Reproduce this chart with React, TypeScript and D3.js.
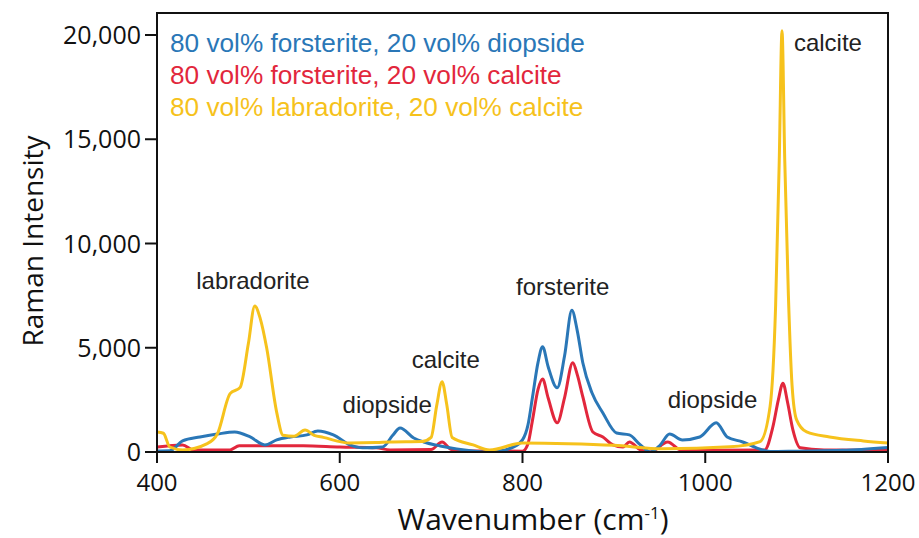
import React from "react";
import * as d3 from "d3";

// Spectra: [wavenumber (cm^-1), Raman intensity]
const forsteriteDiopside: [number, number][] = [
  [400, 50], [414, 60], [428, 530], [447, 720], [466, 860], [485, 960], [502, 720],
  [518, 340], [531, 580], [546, 720], [564, 820], [576, 1010], [593, 820], [611, 340],
  [625, 200], [647, 240], [658, 800], [666, 1150], [681, 670], [692, 480], [710, 290],
  [728, 150], [764, 0], [790, 240], [800, 580], [806, 1300], [811, 2650], [817, 4300],
  [822, 5050], [828, 4100], [838, 3080], [846, 4600], [854, 6800], [860, 5800],
  [866, 4280], [876, 2840], [888, 1870], [903, 910], [917, 820], [929, 340], [940, 0],
  [950, 300], [961, 860], [975, 580], [994, 720], [1012, 1400], [1024, 720], [1041, 480],
  [1056, 200], [1071, 20], [1100, 40], [1150, 80], [1200, 220],
];

const forsteriteCalcite: [number, number][] = [
  [400, 240], [428, 340], [440, 100], [480, 100], [490, 300], [560, 300], [600, 240],
  [640, 200], [655, 100], [700, 120], [712, 480], [722, 120], [740, 50], [800, 40],
  [806, 400], [811, 1540], [817, 3000], [822, 3500], [828, 2600], [838, 1400],
  [846, 2600], [855, 4280], [860, 3700], [866, 2650], [877, 960], [888, 720], [899, 340],
  [910, 240], [917, 480], [929, 100], [940, 0], [959, 480], [973, 100], [1000, 80],
  [1065, 100], [1074, 1200], [1080, 2500], [1085, 3300], [1090, 2400], [1096, 1050],
  [1104, 200], [1130, 100], [1200, 80],
];

const labradoriteCalcite: [number, number][] = [
  [400, 960], [407, 900], [414, 240], [428, 100], [455, 400], [466, 860], [480, 2800],
  [491, 3100], [500, 5200], [507, 7000], [513, 6400], [520, 5000], [531, 1900],
  [538, 800], [550, 750], [562, 1050], [572, 800], [582, 700], [611, 430], [640, 450],
  [655, 480], [690, 500], [700, 700], [706, 2200], [712, 3370], [717, 2300], [723, 700],
  [746, 340], [764, 100], [800, 430], [850, 400], [900, 320], [954, 150], [1027, 250],
  [1060, 500], [1071, 2200], [1077, 7000], [1081, 14000], [1084, 20200], [1087, 14000],
  [1091, 7500], [1095, 3200], [1100, 1540], [1111, 960], [1136, 720], [1173, 530],
  [1200, 430],
];

const legendLabels = [
  "80 vol% forsterite, 20 vol% diopside",
  "80 vol% forsterite, 20 vol% calcite",
  "80 vol% labradorite, 20 vol% calcite",
];
const seriesColors = ["#2a77b7", "#e2273c", "#f6c21c"];

const xTicks = [400, 600, 800, 1000, 1200];
const yTicks = [0, 5000, 10000, 15000, 20000];

// Peak annotations: [label, wavenumber, intensity at label baseline, anchor]
const annotations: [string, number, number, string][] = [
  ["labradorite", 505, 7820, "middle"],
  ["diopside", 652, 1870, "middle"],
  ["calcite", 716, 4030, "middle"],
  ["forsterite", 844, 7530, "middle"],
  ["diopside", 1008, 2110, "middle"],
  ["calcite", 1097, 19230, "start"],
];

const W = 919;
const H = 538;
const M = { left: 157, right: 888, top: 13, bottom: 452 };
const TEXT_FONT = "'Liberation Sans', Arial, sans-serif";
const AXIS_FONT = "'Open Sans', 'Noto Sans', sans-serif";

export default function App() {
  const x = d3.scaleLinear().domain([400, 1200]).range([M.left, M.right]);
  const y = d3.scaleLinear().domain([0, 20000]).range([M.bottom, 35]);
  const line = d3
    .line<[number, number]>()
    .x((d) => x(d[0]))
    .y((d) => y(d[1]))
    .curve(d3.curveMonotoneX);

  const series = [forsteriteDiopside, forsteriteCalcite, labradoriteCalcite];
  const drawOrder = [1, 0, 2];
  const fmt = d3.format(",");

  return (
    <svg
      width={W}
      height={H}
      style={{ position: "absolute", left: 0, top: 0, background: "#fff" }}
    >
      <defs>
        <clipPath id="plot">
          <rect x={M.left} y={M.top} width={M.right - M.left} height={M.bottom - M.top} />
        </clipPath>
      </defs>

      <g clipPath="url(#plot)">
        {drawOrder.map((i) => (
          <path
            key={i}
            d={line(series[i]) || ""}
            fill="none"
            stroke={seriesColors[i]}
            strokeWidth={3}
            strokeLinejoin="round"
          />
        ))}
      </g>

      <rect
        x={M.left}
        y={M.top}
        width={M.right - M.left}
        height={M.bottom - M.top}
        fill="none"
        stroke="#111"
        strokeWidth={2}
      />

      <g fontFamily={AXIS_FONT} fill="#111">
        {yTicks.map((t) => (
          <g key={t}>
            <line x1={M.left - 12} x2={M.left} y1={y(t)} y2={y(t)} stroke="#111" strokeWidth={2} />
            <text x={M.left - 16} y={y(t)} dy="0.36em" textAnchor="end" fontSize={25}>
              {fmt(t)}
            </text>
          </g>
        ))}

        {xTicks.map((t) => (
          <g key={t}>
            <line x1={x(t)} x2={x(t)} y1={M.bottom} y2={M.bottom + 11} stroke="#111" strokeWidth={2} />
            <text x={x(t)} y={491} textAnchor="middle" fontSize={24}>
              {t}
            </text>
          </g>
        ))}

        <text
          transform={`translate(43, 241) rotate(-90)`}
          textAnchor="middle"
          fontSize={28}
        >
          Raman Intensity
        </text>
        <text x={533} y={530} textAnchor="middle" fontSize={30}>
          Wavenumber (cm
          <tspan baselineShift="super" fontSize={17}>-1</tspan>)
        </text>
      </g>

      <g fontFamily={TEXT_FONT}>
        {legendLabels.map((l, i) => (
          <text key={l} x={170} y={52 + i * 32} fontSize={26.2} fill={seriesColors[i]}>
            {l}
          </text>
        ))}

        {annotations.map(([label, wn, v, anchor], i) => (
          <text
            key={i}
            x={x(wn)}
            y={y(v)}
            textAnchor={anchor}
            fontSize={24}
            fill="#222"
          >
            {label}
          </text>
        ))}
      </g>
    </svg>
  );
}
